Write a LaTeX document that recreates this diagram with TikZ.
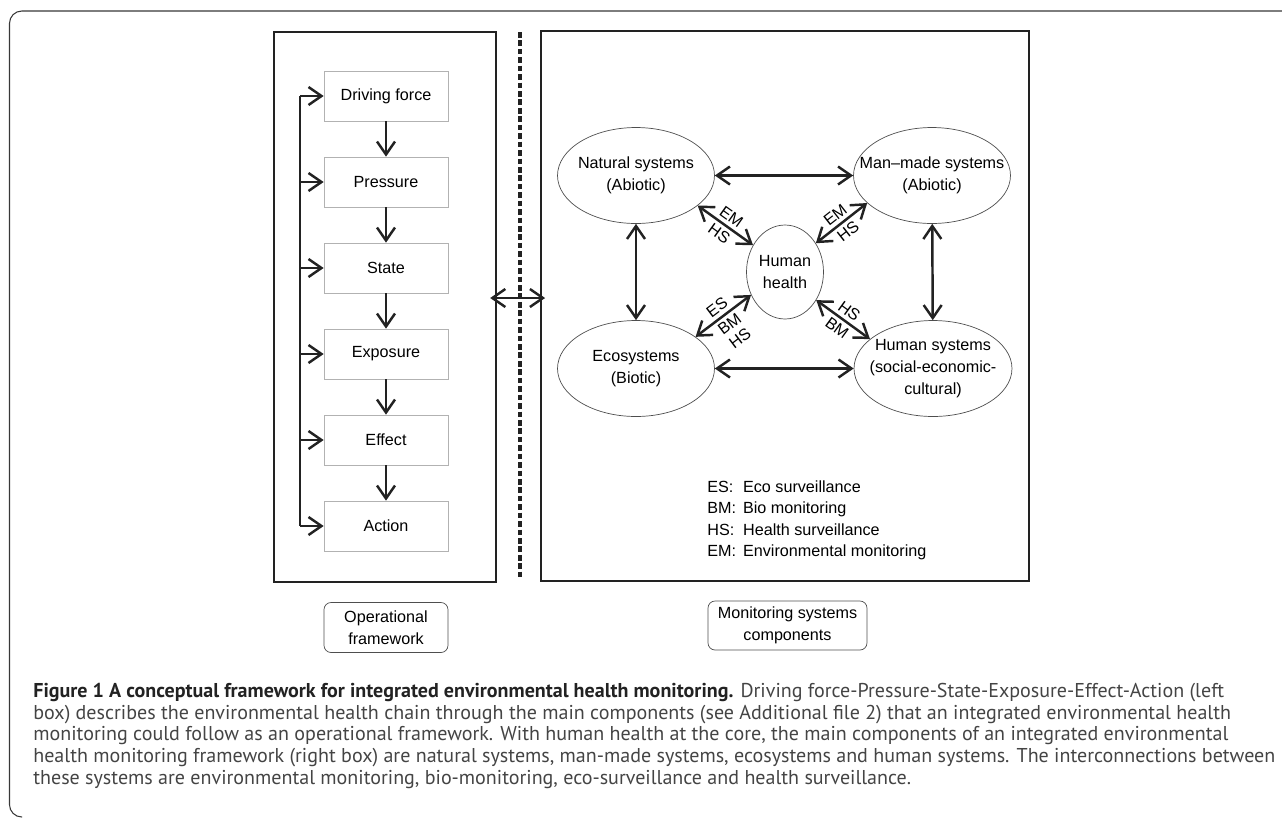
\documentclass[tikz,border=0pt]{standalone}
\usepackage{fontspec}
\setmainfont{Liberation Sans}
\newfontfamily\capfont{PT Sans}
\usetikzlibrary{arrows.meta}
\usetikzlibrary{shapes.geometric}
\usetikzlibrary{calc}

\definecolor{ink}{HTML}{222222}
\definecolor{capgray}{HTML}{444444}

\tikzset{
  arr/.style={draw=ink, line width=1.4pt, -{Straight Barb[length=2.6mm,width=3.6mm]}},
  dbl/.style={draw=ink, line width=1.4pt, {Straight Barb[length=2.6mm,width=3.6mm]}-{Straight Barb[length=2.6mm,width=3.6mm]}},
  frame/.style={draw=ink, line width=1.4pt, minimum width=4.44cm, minimum height=11cm},
  stagebox/.style={draw=gray!60, thin, minimum width=2.48cm, minimum height=1cm},
  sysnode/.style={ellipse, draw=ink!80, thin, minimum width=3.14cm, minimum height=1.92cm,
                  inner xsep=-0.6cm, inner ysep=-0.35cm, align=center},
  tagbox/.style={draw=ink!80, rounded corners=4pt, thin, align=center, minimum height=1cm},
  tag/.style={midway, sloped, inner sep=2pt, align=center, font=\fontsize{9.2}{9.8}\selectfont}
}

\begin{document}
\begin{tikzpicture}[x=0.02cm, y=-0.02cm, font=\fontsize{9.2}{12.3}\selectfont]
  \useasboundingbox (0,0) rectangle (1282,823);

  % outer figure frame
  \draw[ink!90, line width=0.6pt, rounded corners=7pt] (1282,11) -- (9.5,11) -- (9.5,817) -- (22,817);

  % the two panels
  \node[frame] (lframe) at (385,307) {};
  \node[frame, minimum width=9.76cm] (rframe) at (785,306) {};
  \draw[ink, line width=1.9pt, dash pattern=on 3.2pt off 1.6pt] (520,32) -- (520,580);

  % operational chain
  \foreach \n/\t [count=\i] in {drive/Driving force, press/Pressure, state/State, expo/Exposure, effect/Effect, action/Action}
    \node[stagebox] (\n) at (386,{10+86*\i}) {\t};
  \foreach \a/\b in {drive/press, press/state, state/expo, expo/effect, effect/action}
    \draw[arr] (\a) -- (\b);

  \coordinate (fb) at (300,0);
  \draw[ink, line width=1.4pt] (fb |- drive.west) -- (fb |- action.west);
  \foreach \n in {drive, press, state, expo, effect, action}
    \draw[arr] (fb |- \n.west) -- (\n.west);

  \coordinate (link) at (520,298);
  \draw[dbl, shorten <=-4pt, shorten >=-3pt] (lframe.east |- link) -- (rframe.west |- link);

  % monitoring components
  \node[sysnode] (nat) at (636,175.5) {Natural systems\\(Abiotic)};
  \node[sysnode] (man) at (932,175.5) {Man--made systems\\(Abiotic)};
  \node[sysnode] (eco) at (636,368.5) {Ecosystems\\(Biotic)};
  \node[sysnode, minimum width=3.16cm] (hum) at (933,368.5) {Human systems\\(social-economic-\\cultural)};
  \node[sysnode, minimum width=1.54cm, minimum height=1.88cm] (hh) at (785,272) {Human\\health};

  \draw[dbl] (nat) -- (man);
  \draw[dbl] (eco) -- (hum);
  \draw[dbl] (nat) -- (eco);
  \draw[dbl] (man) -- (hum);

  \draw[dbl] (nat.-26) -- (hh.140) node[tag, above] {EM} node[tag, below] {HS};
  \draw[dbl] (hh.43) -- (man.-157) node[tag, above] {EM} node[tag, below] {HS};
  \draw[dbl] (eco.28) -- (hh.-146) node[tag, above] {ES} node[tag, below] {BM\\HS};
  \draw[dbl] (hh.-42) -- (hum.155) node[tag, above] {HS} node[tag, below] {BM};

  \node[anchor=base west, inner sep=0pt] (legend) at (707,492) {%
    \begin{tabular}[t]{@{}l@{\hspace{4pt}}l@{}}
      ES: & Eco surveillance\\
      BM: & Bio monitoring\\
      HS: & Health surveillance\\
      EM: & Environmental monitoring
    \end{tabular}};

  % panel titles
  \node[tagbox, minimum width=2.48cm] (optitle) at (386,627.5) {Operational\\framework};
  \node[tagbox, minimum width=3.18cm, minimum height=0.98cm] (montitle) at (787.5,625.5) {Monitoring systems\\components};

  % caption
  \node[anchor=north west, inner sep=0pt, align=left, text=capgray,
        font=\capfont\fontsize{11.4}{12.3}\selectfont] (caption) at (33,683) {%
    \textcolor{ink}{\bfseries Figure 1 A conceptual framework for integrated environmental health monitoring.} Driving force-Pressure-State-Exposure-Effect-Action (left\\
    box) describes the environmental health chain through the main components (see Additional file 2) that an integrated environmental health\\
    monitoring could follow as an operational framework. With human health at the core, the main components of an integrated environmental\\
    health monitoring framework (right box) are natural systems, man-made systems, ecosystems and human systems. The interconnections between\\
    these systems are environmental monitoring, bio-monitoring, eco-surveillance and health surveillance.};
\end{tikzpicture}
\end{document}
